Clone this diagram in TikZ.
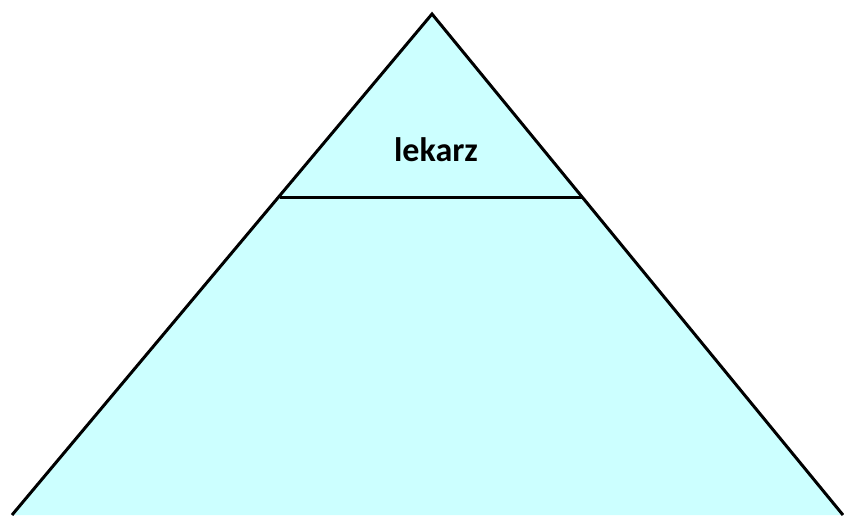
\documentclass[tikz,border=0pt]{standalone}
\usepackage{fontspec}
\setmainfont{Carlito}
\definecolor{fillc}{HTML}{CCFFFF}
\tikzset{edge/.style={draw=black,line width=3pt,line join=miter}}
\begin{document}
\begin{tikzpicture}[x=1pt,y=-1pt]
\useasboundingbox (0,0) rectangle (844,515);
\coordinate (apex) at (432,14);
\coordinate (bl) at (12,515);
\coordinate (br) at (843,515);
\coordinate (ml) at (280,197);
\coordinate (mr) at (582,197);
\fill[fillc] (apex) -- (bl) -- (br) -- cycle;
\draw[edge] (bl) -- (apex) -- (br);
\draw[edge] (ml) -- (mr);
\node[font=\fontsize{34}{37}\selectfont\bfseries, inner sep=0pt, anchor=base] (t) at (436,161) {lekarz};
\end{tikzpicture}
\end{document}
